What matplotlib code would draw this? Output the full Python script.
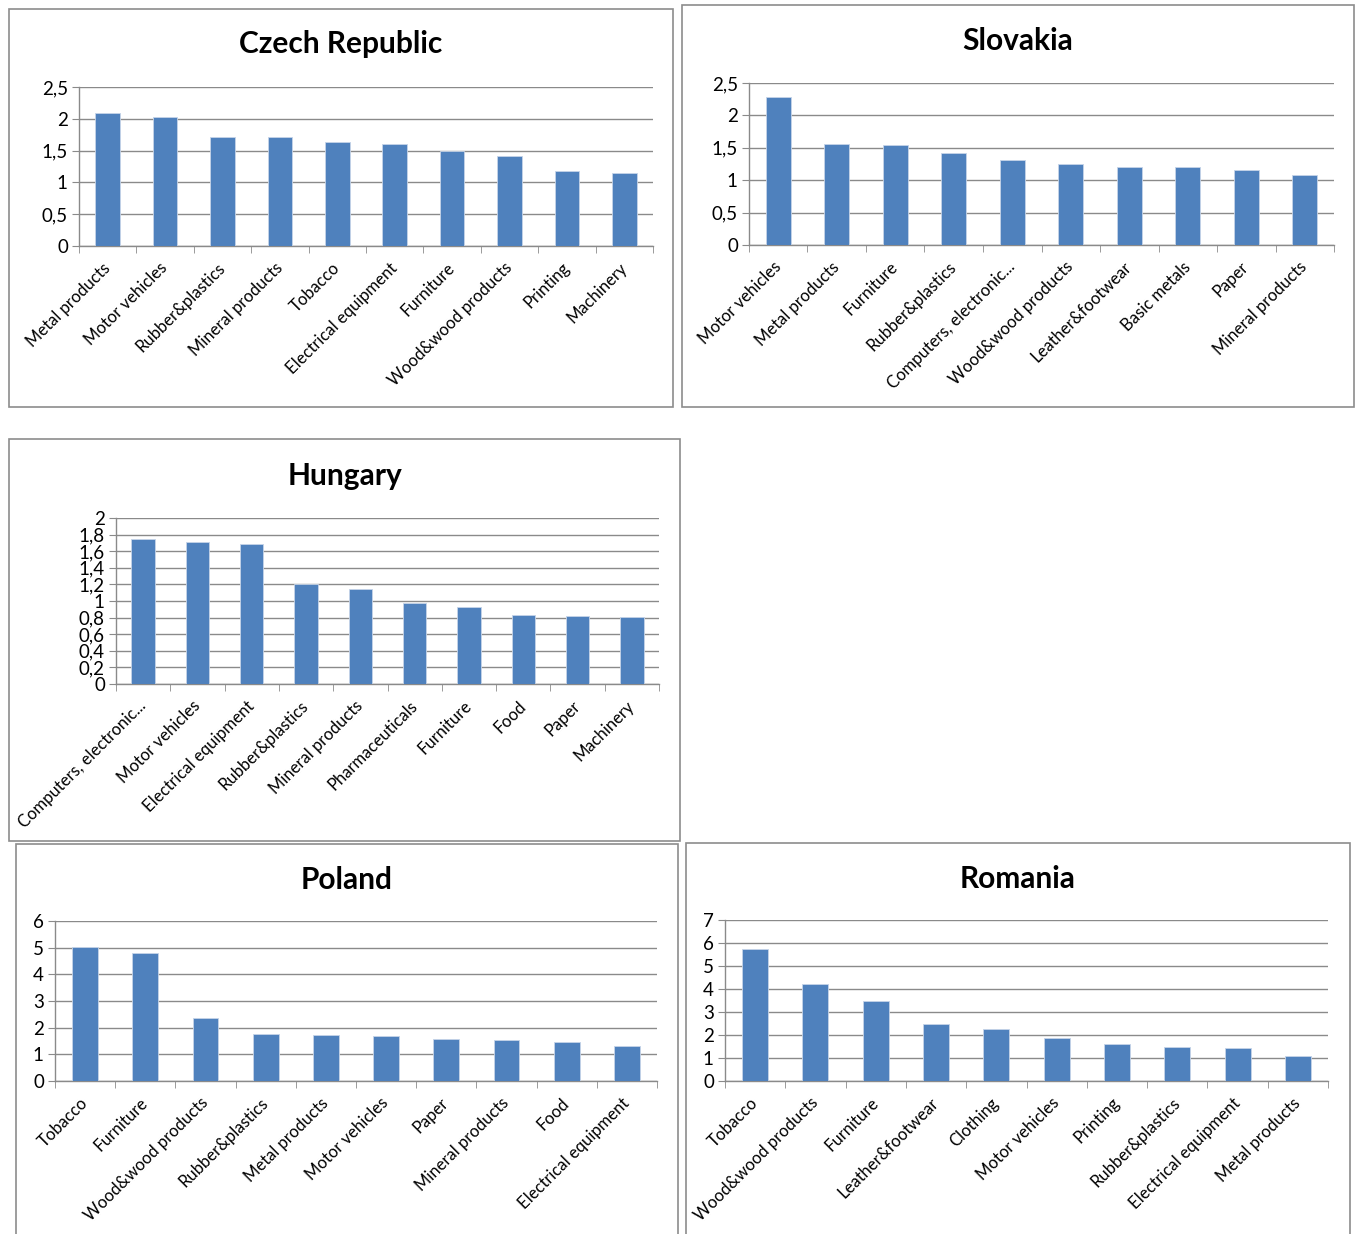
import matplotlib
matplotlib.use("Agg")
import matplotlib.pyplot as plt
from matplotlib.patches import Rectangle
from matplotlib.ticker import FixedLocator, FuncFormatter, MultipleLocator

plt.rcParams['font.family'] = ['Lato', 'DejaVu Sans']

# ---- data -------------------------------------------------------------
cz_labels = ["Metal products", "Motor vehicles", "Rubber&plastics", "Mineral products",
             "Tobacco", "Electrical equipment", "Furniture", "Wood&wood products",
             "Printing", "Machinery"]
cz_values = [2.09, 2.03, 1.71, 1.71, 1.64, 1.60, 1.50, 1.41, 1.18, 1.14]

sk_labels = ["Motor vehicles", "Metal products", "Furniture", "Rubber&plastics",
             "Computers, electronic...", "Wood&wood products", "Leather&footwear",
             "Basic metals", "Paper", "Mineral products"]
sk_values = [2.28, 1.56, 1.55, 1.42, 1.31, 1.25, 1.21, 1.21, 1.15, 1.08]

hu_labels = ["Computers, electronic...", "Motor vehicles", "Electrical equipment",
             "Rubber&plastics", "Mineral products", "Pharmaceuticals", "Furniture",
             "Food", "Paper", "Machinery"]
hu_values = [1.75, 1.71, 1.69, 1.20, 1.15, 0.97, 0.93, 0.83, 0.82, 0.81]

pl_labels = ["Tobacco", "Furniture", "Wood&wood products", "Rubber&plastics",
             "Metal products", "Motor vehicles", "Paper", "Mineral products",
             "Food", "Electrical equipment"]
pl_values = [5.02, 4.79, 2.35, 1.77, 1.72, 1.67, 1.57, 1.53, 1.47, 1.32]

ro_labels = ["Tobacco", "Wood&wood products", "Furniture", "Leather&footwear",
             "Clothing", "Motor vehicles", "Printing", "Rubber&plastics",
             "Electrical equipment", "Metal products"]
ro_values = [5.76, 4.23, 3.48, 2.48, 2.24, 1.88, 1.60, 1.49, 1.43, 1.09]

# ---- layout (pixels) --------------------------------------------------
W, H = 1355, 1234
BAR = "#4F81BD"
GRID = "#8a8a8a"
BOX = "#8c8c8c"

fig = plt.figure(figsize=(W / 100, H / 100), dpi=100)
fig.patch.set_facecolor("white")


def frac_rect(left, top, right, bottom):
    return [left / W, 1 - bottom / H, (right - left) / W, (bottom - top) / H]


def fmt_comma(v, _pos):
    s = "{:g}".format(round(v, 3))
    return s.replace(".", ",")


def panel(box, title, title_y, plot, labels, values, ymax, ystep):
    bl, bt, br, bb = box
    fig.patches.append(Rectangle((bl / W, 1 - bb / H), (br - bl) / W, (bb - bt) / H,
                                 transform=fig.transFigure, fill=False,
                                 edgecolor=BOX, linewidth=1.2, zorder=0))
    fig.text(((bl + br) / 2) / W, 1 - title_y / H, title, ha="center", va="center",
             fontsize=21.5, fontweight="bold", color="black")

    ax = fig.add_axes(frac_rect(*plot))
    x = list(range(len(values)))
    ax.bar(x, values, width=0.43, color=BAR, edgecolor="#c6d4e8", linewidth=0.6, zorder=3)
    ax.set_xlim(-0.5, len(values) - 0.5)
    ax.set_ylim(0, ymax)
    ax.yaxis.set_major_locator(MultipleLocator(ystep))
    ax.yaxis.set_major_formatter(FuncFormatter(fmt_comma))
    ax.grid(axis="y", color=GRID, linewidth=1.0, zorder=0)
    for side in ("top", "right"):
        ax.spines[side].set_visible(False)
    for side in ("left", "bottom"):
        ax.spines[side].set_color(GRID)
        ax.spines[side].set_linewidth(1.0)
    ax.tick_params(axis="y", length=5, color=GRID, labelsize=13.5, pad=3)

    ax.set_xticks(x)
    ax.set_xticklabels(labels, rotation=45, ha="right", va="center",
                       rotation_mode="anchor", fontsize=12)
    ax.tick_params(axis="x", which="major", length=0, pad=14)
    ax.xaxis.set_minor_locator(FixedLocator([i - 0.5 for i in range(len(values) + 1)]))
    ax.tick_params(axis="x", which="minor", length=5, color=GRID)
    return ax


panel((9, 9, 673, 407), "Czech Republic", 44, (79, 87, 653, 246),
      cz_labels, cz_values, 2.5, 0.5)
panel((682, 5, 1354, 407), "Slovakia", 41, (749, 83, 1334, 245),
      sk_labels, sk_values, 2.5, 0.5)
panel((9, 439, 680, 841), "Hungary", 476, (116, 518, 659, 684),
      hu_labels, hu_values, 2.0, 0.2)
panel((16, 844, 678, 1260), "Poland", 880, (55, 921, 657, 1081),
      pl_labels, pl_values, 6, 1)
panel((686, 843, 1350, 1260), "Romania", 879, (725, 920, 1328, 1081),
      ro_labels, ro_values, 7, 1)

fig.savefig("out.png", dpi=100, facecolor="white")
